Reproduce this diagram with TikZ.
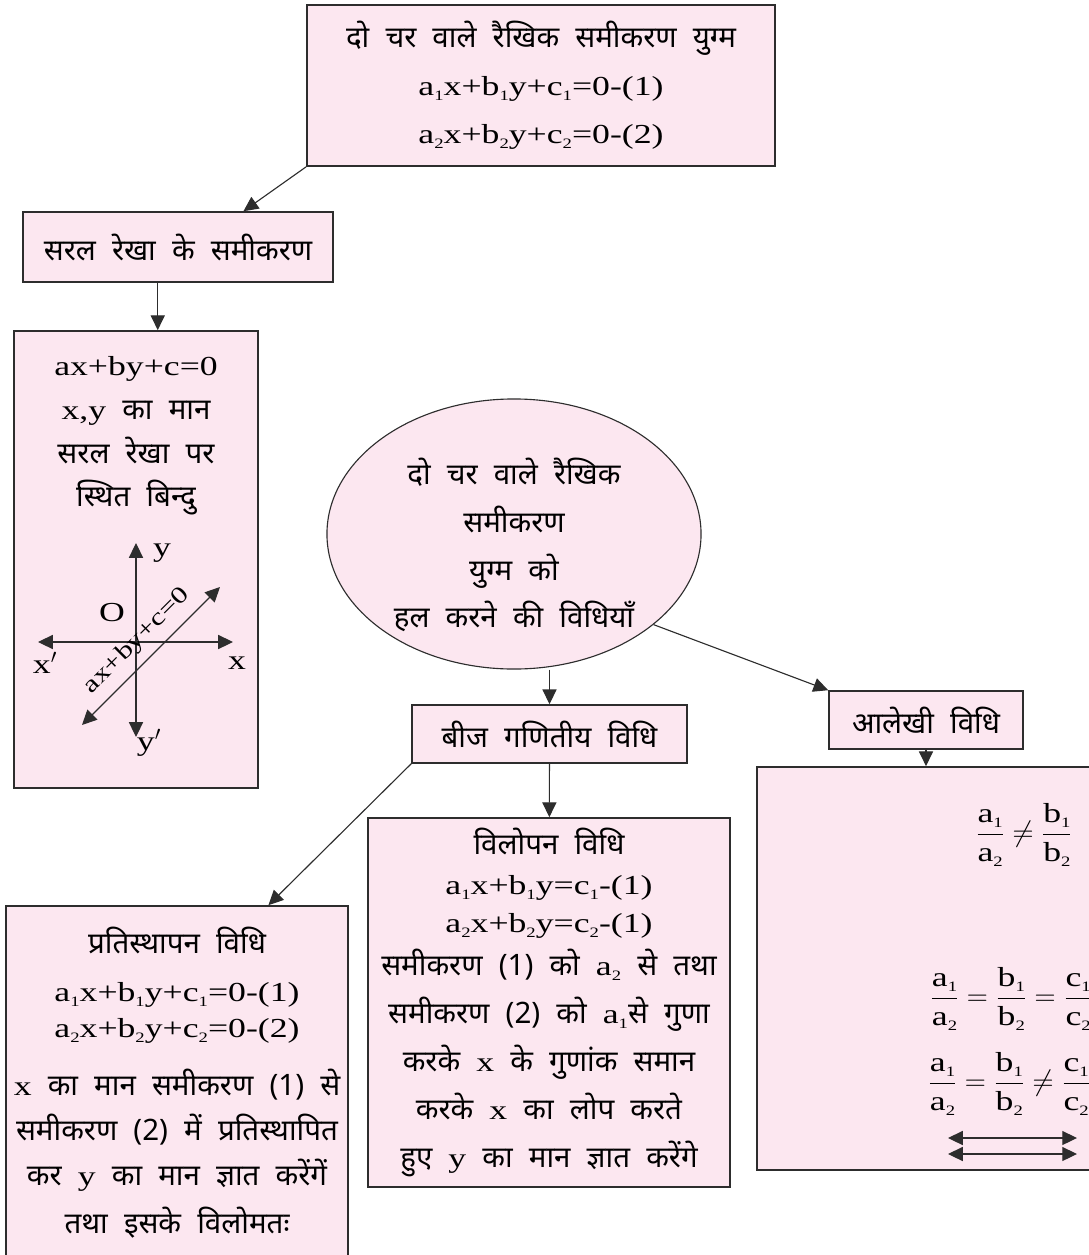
\documentclass[tikz,border=0pt]{standalone}
\usepackage{amsmath}
\usepackage{fontspec}
\newfontfamily\deva[Script=Devanagari,WordSpace=2.1]{Noto Sans}
\newfontfamily\lat{Liberation Serif}[FakeStretch=1.3,Scale=0.93]
\usetikzlibrary{shapes.geometric, arrows.meta, positioning, calc}

\definecolor{boxpink}{RGB}{252,231,240}
\definecolor{edge}{RGB}{45,45,45}

\newcommand{\boxfont}{\fontsize{21}{34}\selectfont\deva}
\newcommand{\labfont}{\fontsize{21}{24}\selectfont\lat}
\newcommand{\latn}[1]{{\lat #1}}
\newcommand{\sbx}[1]{\raisebox{-3.5pt}{\fontsize{11}{11}\selectfont #1}}
\newcommand{\ratiofrac}[1]{\dfrac{\text{#1\sbx{1}}}{\text{#1\sbx{2}}}}

\begin{document}
\begin{tikzpicture}[x=0.025cm, y=-0.025cm]

\tikzstyle{box}=[rectangle,draw=edge,line width=1.1pt,fill=boxpink,inner sep=0pt,align=center,font=\boxfont]
\tikzstyle{line}=[draw=edge,line width=0.8pt,-{Triangle[length=10.5pt,width=10pt]}]
\tikzstyle{both}=[draw=edge,line width=0.8pt,{Triangle[length=10.5pt,width=10pt]}-{Triangle[length=10.5pt,width=10pt]}]

\useasboundingbox (0,0) rectangle (1089,1255);
\clip (0,0) rectangle (1089,1255);

\node (pair) [box,minimum width=11.7cm,minimum height=4.025cm] at (541,85.5)
  {दो चर वाले रैखिक समीकरण युग्म\\
   \latn{a\sbx{1}x+b\sbx{1}y+c\sbx{1}=0-(1)}\\
   \latn{a\sbx{2}x+b\sbx{2}y+c\sbx{2}=0-(2)}};

\node (line) [box,minimum width=7.75cm,minimum height=1.75cm] at (178,247) {सरल रेखा के समीकरण};

\node (linebox) [box,minimum width=6.1cm,minimum height=11.425cm] at (136,559.5) {};
\node (linetext) [font=\fontsize{21}{31}\selectfont\deva,align=center] at (136,436)
  {\latn{ax+by+c=0}\\ \latn{x,y} का मान\\ सरल रेखा पर\\ स्थित बिन्दु};

% axes in the line box
\coordinate (ytop) at (136,543);
\coordinate (ybot) at (136,737);
\coordinate (xleft) at (38,642);
\coordinate (xright) at (233,642);
\coordinate (dlow) at (82,725);
\coordinate (dhigh) at (220,587);
\draw[both] (ybot) -- (ytop);
\draw[both] (xleft) -- (xright);
\draw[both] (dlow) -- (dhigh);
\node (ylab) [font=\labfont] at (162,553) {y};
\node (olab) [font=\labfont] at (112,613) {O};
\node (xllab) [font=\labfont] at (45,663) {x$'$};
\node (xrlab) [font=\labfont] at (237,663) {x};
\node (yblab) [font=\labfont] at (149,743) {y$'$};
\node (eqlab) [font=\fontsize{18}{20}\selectfont\lat,rotate=45] at (137,641) {ax+by+c=0};

\node (methods) [ellipse,draw=edge,line width=0.8pt,fill=boxpink,minimum width=9.35cm,minimum height=6.75cm,inner sep=0pt] at (514,534) {};
\node (methodstext) [font=\boxfont,align=center] at (514,545)
  {दो चर वाले रैखिक\\ समीकरण\\ युग्म को\\ हल करने की विधियाँ};

\node (algebra) [box,minimum width=6.875cm,minimum height=1.45cm] at (549.5,734) {बीज गणितीय विधि};
\node (graph) [box,minimum width=4.85cm,minimum height=1.45cm] at (926,720) {आलेखी विधि};

\node (subst) [box,minimum width=8.55cm,minimum height=8.825cm] at (177,1082.5)
  {प्रतिस्थापन विधि\\
   \latn{a\sbx{1}x+b\sbx{1}y+c\sbx{1}=0-(1)}\\[-8pt]
   \latn{a\sbx{2}x+b\sbx{2}y+c\sbx{2}=0-(2)}\\[7pt]
   \latn{x} का मान समीकरण (1) से\\[-2pt]
   समीकरण (2) में प्रतिस्थापित\\[-2pt]
   कर \latn{y} का मान ज्ञात करेंगें\\
   तथा इसके विलोमतः};

\node (elim) [box,minimum width=9.05cm,minimum height=9.225cm] at (549,1002.5)
  {विलोपन विधि\\[-6pt]
   \latn{a\sbx{1}x+b\sbx{1}y=c\sbx{1}-(1)}\\[-7pt]
   \latn{a\sbx{2}x+b\sbx{2}y=c\sbx{2}-(1)}\\[-3pt]
   समीकरण (1) को \latn{a\sbx{2}} से तथा\\
   समीकरण (2) को \latn{a\sbx{1}}से गुणा\\
   करके \latn{x} के गुणांक समान\\
   करके \latn{x} का लोप करते\\
   हुए \latn{y} का मान ज्ञात करेंगे};

\node (graphbig) [box,minimum width=11.075cm,minimum height=10.075cm] at (978.5,968.5) {};
\node (cond1) [font=\labfont,inner sep=0pt] at (1024,835)
  {$\ratiofrac{a}\neq\ratiofrac{b}$};
\node (cond2) [font=\labfont,inner sep=0pt,anchor=west] at (930,999)
  {$\ratiofrac{a}=\ratiofrac{b}=\ratiofrac{c}$};
\node (cond3) [font=\labfont,inner sep=0pt,anchor=west] at (928,1084)
  {$\ratiofrac{a}=\ratiofrac{b}\neq\ratiofrac{c}$};
\coordinate (dbl1a) at (948,1138);
\coordinate (dbl1b) at (1077,1138);
\coordinate (dbl2a) at (948,1154);
\coordinate (dbl2b) at (1077,1154);
\draw[both] (dbl1a) -- (dbl1b);
\draw[both] (dbl2a) -- (dbl2b);

% Connections
\coordinate (lineout) at ($(line.south west)!0.435!(line.south east)$);
\draw[line] (pair.south west) -- ($(line.north west)!0.71!(line.north east)$);
\draw[line] (lineout) -- (lineout |- linebox.north);
\draw[line] (methods.south -| algebra.north) -- (algebra.north);
\draw[line] (algebra) -- (elim);
\draw[line] (algebra.south west) -- ($(subst.north west)!0.766!(subst.north east)$);
\draw[line] (methods.-33) -- (graph.north west);
\draw[line] (graph) -- (graph |- graphbig.north);

\end{tikzpicture}
\end{document}
